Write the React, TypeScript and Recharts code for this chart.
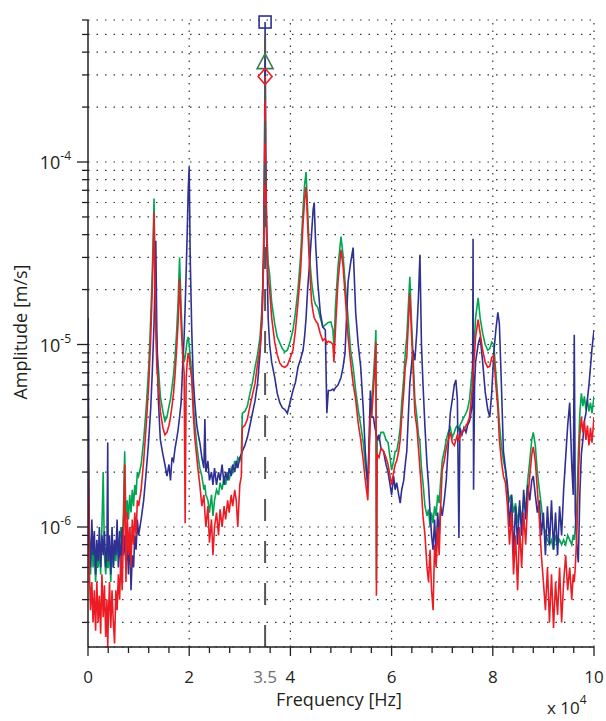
import React from "react";
import {
  ComposedChart,
  Line,
  XAxis,
  YAxis,
  CartesianGrid,
  ReferenceLine,
  ReferenceDot,
} from "recharts";

const FONT = "'Open Sans', 'DejaVu Sans', sans-serif";
const BLUE = "#2E3192";
const GREEN = "#00A651";
const RED = "#ED1C24";
const AXIS = "#231F20";

// frequency grid in kHz
const freqKHz = [
  0, 0.25, 0.5, 0.75, 1, 1.25, 1.5, 1.75, 2, 2.25,
  2.5, 2.75, 3, 3.25, 3.5, 3.75, 3.9, 4, 4.25, 4.5,
  4.75, 5, 5.25, 5.5, 5.75, 6, 6.25, 6.5, 6.75, 7,
  7.25, 7.5, 7.75, 8, 8.25, 8.5, 8.75, 9, 9.25, 9.5,
  9.75, 10, 10.5, 11, 11.5, 12, 12.4, 12.7, 12.9, 13.05,
  13.2, 13.4, 13.6, 13.9, 14.3, 14.8, 15.2, 15.6, 16, 16.3,
  16.6, 16.9, 17.2, 17.5, 17.8, 18.1, 18.4, 18.7, 19, 19.2,
  19.4, 19.6, 19.8, 20, 20.2, 20.5, 20.8, 21.1, 21.5, 21.8,
  22.1, 22.5, 22.9, 23.1, 23.3, 23.7, 24, 24.4, 24.7, 25,
  25.4, 25.8, 26.1, 26.5, 26.9, 27.2, 27.6, 27.9, 28.3, 28.6,
  29, 29.3, 29.6, 30, 30.3, 30.5, 31, 31.5, 32, 32.5,
  33, 33.5, 34, 34.4, 34.7, 34.9, 35, 35.1, 35.3, 35.6,
  35.9, 36.3, 36.9, 37.4, 37.9, 38.4, 38.9, 39.4, 40, 40.5,
  41, 41.5, 42, 42.5, 42.8, 43.1, 43.4, 43.8, 44.2, 44.5,
  44.7, 45, 45.4, 45.9, 46.4, 46.9, 47.2, 47.5, 48, 48.4,
  48.6, 48.9, 49.4, 50, 50.4, 50.8, 51.4, 51.9, 52.4, 52.9,
  53.4, 53.9, 54.4, 54.8, 55.3, 55.8, 56.1, 56.4, 56.7, 56.9,
  57, 57.15, 57.5, 57.9, 58.4, 58.9, 59.3, 59.7, 60, 60.4,
  60.7, 61, 61.4, 61.7, 62, 62.4, 62.7, 63, 63.3, 63.6,
  63.9, 64.2, 64.6, 65, 65.3, 65.6, 65.9, 66.2, 66.6, 67,
  67.3, 67.6, 67.9, 68.2, 68.5, 68.8, 69.1, 69.4, 69.7, 70,
  70.4, 70.8, 71.2, 71.6, 72, 72.4, 72.7, 73, 73.3, 73.5,
  73.9, 74.3, 74.7, 75, 75.4, 75.8, 76, 76.1, 76.2, 76.4,
  76.6, 77.1, 77.5, 78, 78.5, 79, 79.4, 79.8, 80.2, 80.6,
  81, 81.3, 81.7, 82.1, 82.5, 82.9, 83.3, 83.7, 84.1, 84.5,
  84.9, 85.3, 85.7, 86.1, 86.5, 86.9, 87.3, 87.7, 88, 88.4,
  88.8, 89.2, 89.6, 90, 90.4, 90.8, 91.2, 91.6, 92, 92.4,
  92.8, 93.2, 93.6, 94, 94.4, 94.8, 95.2, 95.6, 95.9, 96.1,
  96.3, 96.6, 96.9, 97.2, 97.5, 97.8, 98.1, 98.4, 98.7, 99,
  99.3, 99.6, 100,
];

// amplitudes in um/s (x 1e-6 m/s)
const blueAmp = [
  14, 0.9, 0.6, 1.1, 0.7, 0.95, 0.55, 0.85, 0.65, 1.0,
  0.6, 0.9, 0.7, 0.95, 0.6, 0.8, 2.9, 0.65, 0.9, 0.55,
  1.0, 0.6, 0.85, 0.7, 1.1, 0.6, 0.95, 0.55, 1.0, 0.7,
  0.9, 0.6, 0.85, 0.55, 1.0, 0.45, 0.7, 0.6, 0.9, 0.75,
  1.1, 0.9, 1.1, 1.4, 2.0, 3.0, 4.5, 7, 10, 13,
  20, 37, 12, 5, 3.0, 2.5, 2.2, 1.9, 2.2, 1.8,
  2.4, 2.3, 2.7, 3.0, 3.4, 4.0, 4.8, 7.5, 11, 16,
  25, 40, 70, 94, 30, 12, 6.5, 4.8, 3.6, 3.2,
  2.9, 2.4, 2.1, 3.9, 2.0, 2.3, 1.8, 2.0, 1.7, 2.1,
  1.7, 2.0, 1.8, 2.2, 1.7, 2.0, 1.8, 2.1, 1.9, 2.2,
  2.0, 2.3, 2.1, 2.4, 2.5, 2.6, 2.8, 3.1, 3.6, 4.2,
  4.9, 6.1, 9, 14, 30, 120, 585, 120, 40, 14,
  10, 8, 6.6, 5.4, 4.8, 4.5, 4.4, 4.2, 4.9, 5.6,
  6.2, 7.5, 8.3, 9.3, 11, 14, 20, 28, 41, 55,
  60, 35, 22, 15, 12.5, 12, 4.2, 5.6, 5.6, 5.7,
  5.6, 5.8, 6.0, 6.6, 7.5, 9, 22, 28, 34, 15,
  10, 7.5, 4.4, 2.6, 1.6, 5.6, 4.0, 4.0, 3.5, 3.3,
  3.2, 3.0, 3.2, 2.7, 2.6, 2.2, 2.0, 1.7, 1.5, 1.9,
  1.6, 1.75, 1.5, 1.35, 1.6, 1.8, 2.2, 2.6, 4, 6.1,
  7.5, 9.3, 8.2, 12, 18, 31, 10, 6.1, 3.5, 2.2,
  1.7, 1.2, 0.9, 0.75, 1.1, 0.7, 1.2, 0.9, 1.3, 1.15,
  1.4, 1.8, 2.8, 4.2, 5.0, 6.0, 6.4, 5.0, 0.87, 3.5,
  3.2, 3.5, 3.3, 3.6, 3.8, 4.4, 5, 38, 1.6, 6,
  8, 10, 11, 8, 5.5, 4.4, 4.0, 5.5, 9, 12,
  15, 13, 6, 2.6, 2.1, 1.7, 1.0, 1.5, 0.7, 1.3,
  0.8, 1.4, 0.9, 1.6, 1.1, 1.7, 1.4, 1.8, 1.9, 1.5,
  1.2, 1.4, 0.9, 1.2, 0.7, 1.3, 0.8, 1.4, 0.75, 1.2,
  0.7, 1.3, 0.9, 1.6, 2.4, 3.6, 4.8, 2.2, 1.5, 11.3,
  1.2, 0.8, 0.64, 1.5, 2.5, 3.0, 3.8, 4.2, 5.0, 6.0,
  7.5, 9.5, 12,
];

const greenAmp = [
  3.0, 0.8, 0.55, 0.9, 0.6, 0.75, 0.5, 0.7, 0.6, 0.8,
  0.55, 1.0, 2.0, 0.7, 0.55, 0.75, 0.6, 0.6, 0.8, 0.5,
  0.85, 0.6, 0.75, 0.65, 0.9, 0.7, 0.85, 1.0, 0.8, 1.2,
  2.6, 1.1, 1.4, 1.1, 1.5, 1.2, 1.6, 1.3, 1.7, 1.5,
  2.0, 1.9, 2.2, 3.0, 4.5, 7.5, 14, 25, 40, 63,
  30, 14, 9.5, 7.5, 5.2, 4.3, 3.8, 4.0, 4.6, 5.0,
  5.8, 6.8, 8.5, 11.5, 17, 30, 16, 10, 8, 8.5,
  9.5, 10.5, 11, 10, 8.5, 7.0, 4.8, 3.7, 2.8, 2.4,
  2.1, 1.9, 1.6, 1.7, 1.5, 1.4, 1.2, 1.5, 1.15, 1.4,
  1.6, 1.5, 1.75, 1.6, 1.9, 1.7, 2.0, 1.8, 2.1, 2.0,
  2.3, 2.1, 2.4, 2.3, 2.5, 4.2, 4.3, 4.6, 5.4, 6.2,
  7.5, 8.8, 11, 16, 32, 100, 355, 110, 45, 28,
  24, 17, 13, 11, 10.2, 9.5, 9.1, 9.3, 10.5, 12,
  15, 20, 30, 55, 75, 88, 55, 30, 22, 19,
  17.5, 16.5, 16, 14, 12.5, 12.8, 13, 13.2, 13.3, 12,
  9.7, 16, 26.5, 39, 31, 22, 14, 9.3, 7.5, 5.6,
  4.4, 3.6, 2.9, 2.2, 1.75, 4.4, 5.0, 6.6, 9, 12,
  0.51, 3.0, 3.0, 3.3, 3.3, 3.0, 2.9, 2.4, 2.05, 2.3,
  2.6, 2.6, 3.0, 3.5, 4.8, 6.5, 9, 11, 16, 23.5,
  14, 9.3, 5.0, 4.0, 3.2, 2.9, 2.1, 1.75, 1.3, 1.15,
  1.25, 1.0, 1.2, 1.05, 1.3, 1.15, 1.5, 1.35, 1.8, 2.3,
  2.6, 3.0, 3.3, 3.5, 3.1, 3.3, 3.5, 3.6, 3.4, 3.6,
  3.8, 4.0, 4.2, 4.4, 5.0, 6.6, 7.5, 8.5, 9.5, 11,
  14, 18, 14, 11.5, 10, 9.3, 9.5, 10.3, 10, 7,
  5, 3.7, 2.8, 2.3, 2.05, 1.6, 1.4, 1.5, 1.2, 1.35,
  1.05, 1.3, 1.1, 1.4, 1.3, 1.8, 2.3, 3.0, 3.3, 2.8,
  2.0, 1.6, 1.3, 1.0, 0.95, 0.85, 0.8, 0.85, 0.75, 0.9,
  0.8, 0.85, 0.8, 0.85, 0.8, 0.9, 0.85, 0.8, 0.9, 0.85,
  1.0, 1.3, 2.5, 4.2, 5.4, 4.6, 5.2, 4.4, 5.0, 4.3,
  4.8, 4.2, 5.2,
];

const redAmp = [
  2.6, 0.6, 0.35, 0.5, 0.3, 0.45, 0.27, 0.5, 0.3, 0.42,
  0.26, 0.55, 0.32, 0.48, 0.25, 0.4, 0.22, 0.3, 0.5, 0.28,
  0.45, 0.3, 0.23, 0.45, 0.35, 0.55, 0.4, 0.7, 0.45, 0.9,
  2.2, 0.5, 1.2, 0.7, 1.0, 0.6, 1.1, 0.8, 1.2, 0.9,
  1.4, 1.3, 1.6, 2.3, 3.6, 6.0, 11, 20, 33, 53,
  25, 12, 7.5, 6, 4.3, 3.5, 3.2, 3.3, 3.6, 4.0,
  4.6, 5.4, 6.8, 9.3, 13, 23, 13, 9, 7, 1.05,
  6.5, 8, 9, 8.5, 7.5, 6.5, 4.2, 3.1, 2.4, 2.0,
  1.7, 1.3, 1.5, 1.2, 1.0, 1.3, 0.82, 1.1, 0.7, 1.0,
  1.2, 0.9, 1.25, 1.0, 1.3, 1.1, 1.4, 1.2, 1.5, 1.3,
  1.6, 1.4, 1.0, 1.7, 1.9, 3.5, 3.6, 3.9, 4.6, 5.3,
  6.1, 7.8, 9.5, 14, 28, 90, 296, 95, 40, 23,
  20, 14, 10.3, 8.8, 7.9, 7.6, 7.5, 7.7, 8.5, 9.3,
  12, 17, 25, 46, 62, 73, 46, 26, 17, 15,
  14, 13.5, 13, 11.5, 10.5, 10.8, 10.2, 10.4, 10.3, 10,
  8.0, 12, 22, 33, 27, 19, 11, 8, 6.1, 5.0,
  3.7, 3.0, 2.3, 1.8, 1.4, 4.0, 4.2, 5.6, 7.5, 10.3,
  0.42, 2.5, 2.4, 2.7, 2.6, 2.4, 2.2, 1.9, 1.7, 2.0,
  2.2, 2.3, 2.6, 3.0, 4.0, 5.5, 7.5, 8.5, 13, 19,
  12, 7.9, 4.2, 3.5, 2.7, 2.1, 1.6, 1.15, 0.9, 0.6,
  0.5, 0.75, 0.45, 0.35, 0.8, 0.6, 1.0, 0.7, 1.3, 2.05,
  2.3, 2.7, 3.0, 3.3, 2.9, 2.8, 3.0, 3.2, 3.0, 3.1,
  3.3, 3.4, 3.6, 3.7, 4.0, 5.2, 6, 7, 7.5, 9,
  11, 13.7, 11.5, 9.3, 8, 7.5, 7.6, 8.5, 8.7, 6,
  4.5, 3.0, 2.3, 1.9, 1.75, 1.3, 0.8, 1.2, 0.55, 0.9,
  0.45, 1.0, 0.6, 1.2, 0.8, 1.4, 1.9, 2.5, 2.75, 2.3,
  1.6, 1.1, 0.7, 0.5, 0.35, 0.6, 0.3, 0.55, 0.28, 0.5,
  0.33, 0.6, 0.3, 0.5, 0.7, 0.45, 0.6, 0.4, 0.55, 0.5,
  0.6, 0.9, 1.8, 3.2, 4.0, 3.3, 3.8, 3.0, 3.6, 2.8,
  3.5, 2.9, 4.0,
];

// peak markers at the 35 kHz resonance (m/s)
const peakFreq = 35000;
const peakBlue = 5.85e-4;
const peakGreen = 3.55e-4;
const peakRed = 2.94e-4;

const xTicks = [
  0, 4000, 8000, 12000, 16000, 20000, 24000, 28000, 32000, 36000,
  40000, 44000, 48000, 52000, 56000, 60000, 64000, 68000, 72000, 76000,
  80000, 84000, 88000, 92000, 96000, 100000,
];
const xLabelTicks = [0, 20000, 40000, 60000, 80000, 100000];
const xGridValues = [20000, 40000, 60000, 80000, 100000];

const yTicks = [
  3e-7, 4e-7, 5e-7, 6e-7, 7e-7, 8e-7, 9e-7,
  1e-6, 2e-6, 3e-6, 4e-6, 5e-6, 6e-6, 7e-6, 8e-6, 9e-6,
  1e-5, 2e-5, 3e-5, 4e-5, 5e-5, 6e-5, 7e-5, 8e-5, 9e-5,
  1e-4, 2e-4, 3e-4, 4e-4, 5e-4, 6e-4,
];
const yMajor = [1e-6, 1e-5, 1e-4];

const data = freqKHz.map((f, i) => ({
  f: f * 1000,
  blue: blueAmp[i] * 1e-6,
  green: greenAmp[i] * 1e-6,
  red: redAmp[i] * 1e-6,
}));

function XTick(props: any) {
  const { x, y, payload } = props;
  const v = payload.value;
  if (v === peakFreq) {
    return (
      <text x={x} y={y + 36} textAnchor="middle" fontSize={17} fontFamily={FONT} fill="#6D6E71">
        3.5
      </text>
    );
  }
  const major = xLabelTicks.includes(v);
  return (
    <g>
      <line x1={x} x2={x} y1={y} y2={y + (major ? 9 : 6)} stroke={AXIS} strokeWidth={1.3} />
      {major && (
        <text x={x} y={y + 36} textAnchor="middle" fontSize={17} fontFamily={FONT} fill={AXIS}>
          {String(v / 10000)}
        </text>
      )}
    </g>
  );
}

function YTick(props: any) {
  const { x, y, payload } = props;
  const v = payload.value;
  const major = yMajor.some((m) => Math.abs(m - v) / m < 1e-6);
  const exp = Math.round(Math.log10(v));
  return (
    <g>
      <line x1={x - (major ? 11 : 6)} x2={x} y1={y} y2={y} stroke={AXIS} strokeWidth={1.3} />
      {major && (
        <text x={x - 17} y={y + 7} textAnchor="end" fontSize={18} fontFamily={FONT} fill={AXIS}>
          10
          <tspan dy={-9} fontSize={12}>
            {String(exp)}
          </tspan>
        </text>
      )}
    </g>
  );
}

const squareShape = (p: any) => (
  <rect x={p.cx - 6} y={p.cy - 6} width={12} height={12} fill="none" stroke={BLUE} strokeWidth={1.6} />
);
const triangleShape = (p: any) => (
  <polygon
    points={`${p.cx},${p.cy - 8} ${p.cx - 8},${p.cy + 7} ${p.cx + 8},${p.cy + 7}`}
    fill="none"
    stroke="#3C7A55"
    strokeWidth={1.6}
  />
);
const diamondShape = (p: any) => (
  <polygon
    points={`${p.cx},${p.cy - 8} ${p.cx + 7},${p.cy} ${p.cx},${p.cy + 8} ${p.cx - 7},${p.cy}`}
    fill="none"
    stroke={RED}
    strokeWidth={1.6}
  />
);

export default function App() {
  return (
    <div style={{ position: "absolute", left: 0, top: 0, width: 606, height: 721, background: "#fff" }}>
      <ComposedChart
        width={606}
        height={721}
        data={data}
        margin={{ top: 20, right: 12, bottom: 0, left: 0 }}
      >
        <CartesianGrid
          vertical={false}
          stroke="#333"
          strokeDasharray="1.5 7"
          strokeWidth={1.2}
        />
        {xGridValues.map((v) => (
          <ReferenceLine key={v} x={v} stroke="#333" strokeDasharray="1.5 6" strokeWidth={1.2} />
        ))}
        <XAxis
          dataKey="f"
          type="number"
          domain={[0, 100000]}
          ticks={[...xTicks, peakFreq]}
          interval={0}
          tick={XTick}
          tickLine={false}
          tickSize={0}
          tickMargin={0}
          axisLine={{ stroke: AXIS, strokeWidth: 1.5 }}
          height={74}
          allowDataOverflow
        />
        <YAxis
          scale="log"
          domain={[2.2e-7, 6e-4]}
          ticks={yTicks}
          interval={0}
          tick={YTick}
          tickLine={false}
          tickSize={0}
          tickMargin={0}
          axisLine={{ stroke: AXIS, strokeWidth: 1.5 }}
          width={88}
          allowDataOverflow
        />
        <Line dataKey="green" stroke={GREEN} strokeWidth={1.6} dot={false} activeDot={false} isAnimationActive={false} />
        <Line dataKey="blue" stroke={BLUE} strokeWidth={1.6} dot={false} activeDot={false} isAnimationActive={false} />
        <Line dataKey="red" stroke={RED} strokeWidth={1.6} dot={false} activeDot={false} isAnimationActive={false} />
        <ReferenceLine x={peakFreq} stroke="#555" strokeWidth={2} strokeDasharray="22 20" />
        <ReferenceDot x={peakFreq} y={peakBlue} shape={squareShape} />
        <ReferenceDot x={peakFreq} y={peakGreen} shape={triangleShape} />
        <ReferenceDot x={peakFreq} y={peakRed} shape={diamondShape} />
      </ComposedChart>
      <svg
        width={606}
        height={721}
        style={{ position: "absolute", left: 0, top: 0, pointerEvents: "none" }}
      >
        <text x={339} y={706} textAnchor="middle" fontSize={18} fontFamily={FONT} fill={AXIS}>
          Frequency [Hz]
        </text>
        <text
          x={20}
          y={332}
          textAnchor="middle"
          dominantBaseline="central"
          fontSize={18}
          fontFamily={FONT}
          fill={AXIS}
          transform="rotate(-90 20 332)"
        >
          Amplitude [m/s]
        </text>
        <text x={547} y={714} fontSize={17} fontFamily={FONT} fill={AXIS}>
          x 10
          <tspan dy={-10} fontSize={12}>
            4
          </tspan>
        </text>
      </svg>
    </div>
  );
}
